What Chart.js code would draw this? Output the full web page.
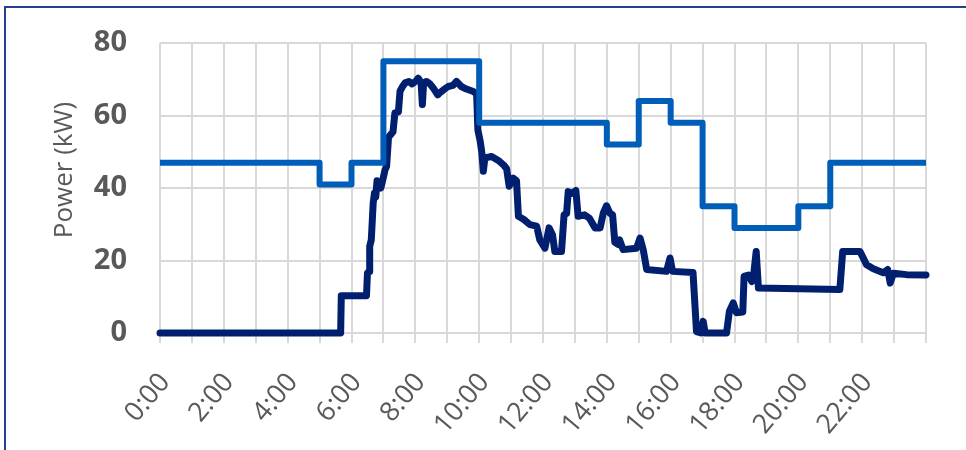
<!DOCTYPE html>
<html>
<head>
<meta charset="utf-8">
<script src="https://cdn.jsdelivr.net/npm/chart.js@4/dist/chart.umd.min.js"></script>
<style>
    html, body { margin: 0; padding: 0; background: #fff; }
    #wrap { position: relative; width: 966px; height: 450px; overflow: hidden; }
    #frame {
        position: absolute; left: 4px; top: 6px; width: 1000px; height: 500px;
        border: 2px solid #25408f; pointer-events: none;
    }
</style>
</head>
<body>
<div id="wrap">
    <canvas id="power-chart"></canvas>
    <div id="frame"></div>
</div>
<script>
// contracted power limit, steps by hour (value holds from that hour on)
const limitHours = [0, 5, 6, 7, 10, 14, 15, 16, 17, 18, 20, 21, 24];
const limitKw = [47, 41, 47, 75, 58, 52, 64, 58, 35, 29, 35, 47, 47];

// measured load over the day
const loadHours = [
    0, 5.66, 5.68, 6.47, 6.5, 6.55, 6.57, 6.62, 6.68, 6.72, 6.76, 6.8, 6.86, 6.92,
    7.0, 7.05, 7.1, 7.16, 7.3, 7.36, 7.47, 7.52, 7.6, 7.68, 7.8, 7.9, 8.02, 8.09,
    8.18, 8.22, 8.26, 8.35, 8.45, 8.56, 8.7, 8.8, 8.9, 9.03, 9.18, 9.29, 9.44, 9.6,
    9.82, 9.92, 9.96, 10.03, 10.08, 10.13, 10.18, 10.39, 10.6, 10.76, 10.86, 10.94,
    11.07, 11.17, 11.23, 11.4, 11.59, 11.8, 11.9, 12.06, 12.19, 12.3, 12.37, 12.58,
    12.66, 12.74, 12.79, 12.9, 13.03, 13.1, 13.3, 13.45, 13.63, 13.79, 13.89, 13.99,
    14.1, 14.18, 14.25, 14.36, 14.4, 14.51, 14.93, 15.04, 15.14, 15.25, 15.87, 15.98,
    16.06, 16.7, 16.81, 16.95, 17.02, 17.08, 17.75, 17.84, 17.96, 18.06, 18.26, 18.3,
    18.44, 18.54, 18.6, 18.68, 18.75, 21.3, 21.39, 21.93, 22.14, 22.35, 22.66, 22.8,
    22.88, 22.98, 23.39, 24
];
const loadKw = [
    0, 0, 10.3, 10.3, 16.5, 17, 23.9, 25.7, 35.9, 38.6, 37.5, 42, 41, 40,
    43, 45, 46, 54, 55.5, 60.7, 61, 66.7, 68, 69, 69.4, 68.7, 69.5, 70.3,
    69, 63, 69, 69.4, 68.8, 67.6, 65.7, 66.5, 67.2, 68, 68.3, 69.4, 68, 67.3,
    66.6, 66, 56, 53, 50, 44.6, 48.3, 48.7, 47.6, 46.4, 45.3, 40.5,
    42.7, 42, 32.2, 31.3, 29.9, 29.5, 25.7, 23.4, 29, 27, 22.5, 22.5,
    32.6, 33, 39, 38.5, 39.3, 32.2, 32.6, 31.7, 29, 29, 33.1, 35.1,
    33, 32.6, 25, 24.4, 25.7, 23, 23.4, 26.2, 23, 17.5, 17, 20.7,
    17, 16.7, 0.4, 0, 3.2, 0, 0, 6, 8.3, 5.6, 5.8, 15.6,
    16, 14.2, 16, 22.5, 12.4, 12, 22.5, 22.5, 18.8, 17.7, 16.6, 17.5,
    13.8, 16.5, 16.1, 16
];

const yTicks = [0, 20, 40, 60, 80];

function toPoints(xs, ys) {
    return xs.map((x, i) => ({x: x, y: ys[i]}));
}

// rotated axis title, sits a little above the axis middle
const axisTitle = {
    id: 'axisTitle',
    afterDraw(chart) {
        const ctx = chart.ctx;
        ctx.save();
        ctx.translate(65, 170);
        ctx.rotate(-Math.PI / 2);
        ctx.font = '26px "Open Sans"';
        ctx.fillStyle = '#595959';
        ctx.textAlign = 'center';
        ctx.textBaseline = 'middle';
        ctx.fillText('Power (kW)', 0, 0);
        ctx.restore();
    }
};

const chartData = {
    datasets: [
        {
            label: 'Limit',
            data: toPoints(limitHours, limitKw),
            borderColor: '#005eb8',
            borderWidth: 6,
            stepped: 'before',
            pointRadius: 0,
            borderJoinStyle: 'round',
            clip: false
        },
        {
            label: 'Load',
            data: toPoints(loadHours, loadKw),
            borderColor: '#001f6e',
            borderWidth: 7,
            tension: 0,
            pointRadius: 0,
            borderJoinStyle: 'round',
            borderCapStyle: 'round',
            clip: false
        }
    ]
};

const options = {
    responsive: true,
    maintainAspectRatio: false,
    animation: false,
    layout: {padding: {left: 0, top: 43, right: 40, bottom: 0}},
    plugins: {legend: {display: false}, tooltip: {enabled: false}},
    scales: {
        x: {
            type: 'linear',
            min: 0,
            max: 24,
            border: {display: false},
            grid: {color: '#d9d9d9', lineWidth: 2, drawTicks: true, tickLength: 10},
            afterFit: (scale) => {
                scale.height = 117;
                scale.paddingLeft = 0;
                scale.paddingRight = 0;
            },
            ticks: {
                stepSize: 1,
                autoSkip: false,
                maxRotation: 50,
                minRotation: 50,
                padding: 24,
                labelOffset: 5,
                color: '#595959',
                font: {family: 'Open Sans', size: 27},
                callback: (value) => (value % 2 === 0 && value < 24) ? value + ':00' : ''
            }
        },
        y: {
            min: yTicks[0],
            max: yTicks[yTicks.length - 1],
            border: {display: false},
            grid: {color: '#d9d9d9', lineWidth: 2, drawTicks: false},
            afterFit: (scale) => {
                scale.width = 160;
                scale.paddingTop = 0;
                scale.paddingBottom = 0;
            },
            afterBuildTicks: (scale) => { scale.ticks = yTicks.map((v) => ({value: v})); },
            ticks: {
                padding: 33,
                color: '#595959',
                font: {family: 'Open Sans', size: 29, weight: 'bold'}
            }
        }
    }
};

const config = {
    type: 'line',
    data: chartData,
    options: options,
    plugins: [axisTitle]
};

const chart_canvas = document.getElementById('power-chart');
const power_chart = new Chart(chart_canvas, config);
</script>
</body>
</html>
